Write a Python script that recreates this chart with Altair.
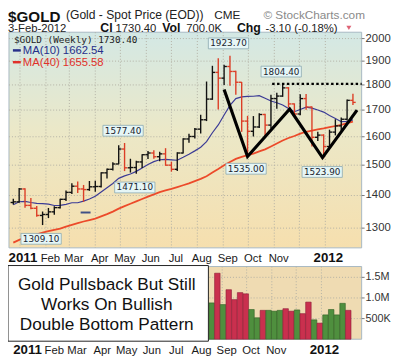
import altair as alt
import pandas as pd

# ---------------- data ----------------
weeks = pd.date_range("2010-12-24", periods=59, freq="7D").strftime("%Y-%m-%dT00:00:00").tolist()

opens = [1378,1380,1421,1369,1360,1338,1341,1349,1362,1388,
         1410,1430,1421,1419,1428,1429,1474,1486,1504,1556,
         1491,1492,1511,1536,1542,1529,1539,1500,1486,1542,
         1592,1601,1628,1663,1743,1852,1828,1877,1856,1811,
         1658,1620,1636,1683,1643,1745,1755,1788,1724,1685,
         1745,1712,1598,1606,1565,1617,1640,1665,1738]
highs = [1390,1424,1423,1392,1367,1350,1361,1366,1390,1416,
         1440,1445,1434,1447,1448,1476,1489,1510,1569,1577.4,
         1522,1515,1538,1549,1552,1546,1559,1512,1545,1595,
         1611,1632,1682,1814,1880,1913,1885,1923.7,1859,1812,
         1678,1677,1688,1686,1760,1768,1804.4,1791,1726,1762,
         1763,1714,1618,1609,1626,1665,1672,1741,1764]
lows = [1372,1377,1362,1357,1334,1309.1,1330,1340,1359,1383,
        1405,1408,1380,1415,1412,1426,1455,1482,1503,1480,
        1475,1471.1,1490,1521,1522,1513,1498,1478,1480,1540,
        1578,1594,1612,1658,1740,1702,1800,1797,1760,1618,
        1535,1601,1632,1604,1630,1705,1752,1710,1676,1680,
        1701,1565,1585,1523.9,1564,1605,1623,1660,1720]
closes = [1380,1421,1369,1360,1338,1341,1349,1362,1388,1410,
          1430,1421,1419,1428,1429,1474,1486,1504,1556,1491,
          1492,1511,1536,1542,1529,1539,1500,1486,1542,1592,
          1601,1628,1663,1743,1852,1828,1877,1856,1811,1658,
          1620,1636,1683,1643,1745,1755,1788,1724,1685,1745,
          1712,1598,1606,1565,1617,1640,1665,1738,1730]
prior_close = 1378
ma10 = [1370.7,1380.3,1381.5,1378.1,1375.5,1374.4,1373.1,1368.7,1369.0,1372.2,
        1377.2,1377.2,1382.2,1389.0,1397.7,1411.0,1424.7,1438.9,1455.7,1463.8,
        1470.0,1479.0,1490.7,1502.1,1512.1,1518.6,1520.0,1518.2,1516.8,1526.9,
        1537.8,1549.5,1562.2,1582.3,1614.6,1643.5,1681.2,1718.2,1745.1,1751.7,
        1753.6,1754.4,1756.4,1746.4,1735.7,1728.4,1719.5,1706.3,1693.7,1702.4,
        1711.6,1707.8,1700.1,1692.3,1679.5,1668.0,1655.7,1657.1,1662.5]
ma40 = [1258.0,1265.9,1271.9,1276.9,1282.0,1286.6,1290.9,1294.7,1298.7,1304.5,
        1309.9,1315.0,1319.7,1324.0,1328.4,1335.0,1341.9,1349.8,1358.9,1366.7,
        1373.9,1381.3,1389.0,1396.6,1403.7,1411.0,1416.6,1421.3,1427.0,1433.1,
        1439.0,1446.5,1454.1,1462.9,1475.0,1486.9,1499.7,1511.0,1521.6,1528.6,
        1534.6,1540.0,1547.9,1554.9,1565.0,1575.4,1586.3,1595.4,1602.8,1611.2,
        1618.2,1622.7,1627.3,1630.8,1635.5,1639.6,1644.1,1650.0,1655.6]

vol_first_week = 34
volumes_k = [880,1600,840,1200,960,1130,1100,720,520,700,
             700,680,700,740,680,710,620,900,470,390,
             590,720,590,870,700]

hi_idx = [19, 37, 46]
hi_text = ["1577.40", "1923.70", "1804.40"]
lo_idx = [5, 21, 40, 53]
lo_text = ["1309.10", "1471.10", "1535.00", "1523.90"]

pattern_dates = ["2011-09-02T00:00:00", "2011-09-30T00:00:00", "2011-11-19T10:00:00",
                 "2011-12-28T14:00:00", "2012-02-07T22:00:00"]
pattern_prices = [1781, 1530, 1704, 1526, 1700]
resist_start, resist_end, resist_price = "2011-10-29T10:00:00", "2012-02-13T10:00:00", 1804.4
dash_dates, dash_price = ["2011-03-14T12:00:00", "2011-03-26T08:00:00"], 1347

price_ticks = [1300, 1400, 1500, 1600, 1700, 1800, 1900, 2000]
vol_ticks = [500, 1000, 1500]
vol_tick_labels = ["500K", "1.0M", "1.5M"]
month_starts = [f"2011-{m:02d}-01T00:00:00" for m in range(1, 13)] + ["2012-01-01T00:00:00"]
month_names = ["Feb", "Mar", "Apr", "May", "Jun", "Jul", "Aug", "Sep", "Oct", "Nov"]
month_name_dates = [f"2011-{m:02d}-01T00:00:00" for m in range(2, 12)]
year_names = ["2011", "2012"]
year_dates = ["2011-01-01T00:00:00", "2012-01-01T00:00:00"]

# ---------------- tables ----------------
prev = [prior_close] + closes[:-1]
price = pd.DataFrame(dict(date=weeks, open=opens, high=highs, low=lows, close=closes,
                          ma10=ma10, ma40=ma40,
                          dir=["up" if c >= p else "down" for c, p in zip(closes, prev)]))
vol = pd.DataFrame(dict(date=weeks[vol_first_week:], vol=volumes_k,
                        dir=price["dir"].tolist()[vol_first_week:]))
hi = pd.DataFrame(dict(date=[weeks[i] for i in hi_idx], v=[highs[i] for i in hi_idx], t=hi_text))
lo = pd.DataFrame(dict(date=[weeks[i] for i in lo_idx], v=[lows[i] for i in lo_idx], t=lo_text))
pattern = pd.DataFrame(dict(d=pattern_dates, p=pattern_prices, i=list(range(len(pattern_dates)))))
resist = pd.DataFrame(dict(d1=[resist_start], d2=[resist_end], p=[resist_price]))
dash = pd.DataFrame(dict(d=dash_dates, p=[dash_price, dash_price]))
months = pd.DataFrame(dict(m=month_starts))
mlab = pd.DataFrame(dict(m=month_name_dates, t=month_names))
ylab = pd.DataFrame(dict(m=year_dates, t=year_names))
pt = pd.DataFrame(dict(v=price_ticks))
vt = pd.DataFrame(dict(v=vol_ticks, t=vol_tick_labels))
one = pd.DataFrame(dict(k=[0]))

# ---------------- geometry ----------------
W = 359
PH = 219.5
VT, VB = 238.5, 312.5
OX, OY = 9, 29.5

XS = alt.Scale(domain=[alt.DateTime(year=2010, month=12, date=18, hours=20),
                       alt.DateTime(year=2012, month=2, date=13, hours=10)], nice=False)
YP = alt.Scale(type="log", domain=[1243, 2029], range=[PH, 0], nice=False, zero=False)
YV = alt.Scale(domain=[0, 1762], range=[VB, VT], nice=False, zero=False)

GRID = dict(stroke="#b3b0a4", strokeDash=[1, 2], strokeWidth=1)
BORDER = "#a7b8c2"
UP, DOWN = "#111111", "#dc3d26"
FONT = "Liberation Sans"


def xlabels(base_y):
    m = alt.Chart(mlab).mark_text(align="center", baseline="alphabetic", font=FONT, fontSize=11.5,
                                  color="#1a1a1a", dx=4.5).encode(
        x=alt.X("m:T", scale=XS, axis=None), y=alt.value(base_y - OY), text="t:N")
    y = alt.Chart(ylab).mark_text(align="center", baseline="alphabetic", font=FONT, fontSize=13.5,
                                  fontWeight="bold", color="#111", dx=3).encode(
        x=alt.X("m:T", scale=XS, axis=None), y=alt.value(base_y - OY), text="t:N")
    return [m, y]


# ---------------- price panel ----------------
grad = alt.Gradient(gradient="linear", x1=0, x2=0, y1=0, y2=1,
                    stops=[alt.GradientStop(color="#d3e8e5", offset=0),
                           alt.GradientStop(color="#ebe8c8", offset=0.45),
                           alt.GradientStop(color="#f6dfae", offset=1)])
bgp = alt.Chart(one).mark_rect(fill=grad, stroke=BORDER, strokeWidth=1).encode(
    x=alt.value(0), x2=alt.value(W), y=alt.value(0), y2=alt.value(PH))
gvp = alt.Chart(months).mark_rule(**GRID).encode(
    x=alt.X("m:T", scale=XS, axis=None), y=alt.value(0), y2=alt.value(PH))
ghp = alt.Chart(pt).mark_rule(**GRID).encode(
    y=alt.Y("v:Q", scale=YP, axis=None), x=alt.value(0), x2=alt.value(W))
ptick = alt.Chart(pt).mark_rule(color="#777", strokeWidth=1).encode(
    y=alt.Y("v:Q", scale=YP, axis=None), x=alt.value(W), x2=alt.value(W + 3))
plab = alt.Chart(pt).mark_text(align="left", baseline="middle", font=FONT, fontSize=11.5,
                               color="#333").encode(
    y=alt.Y("v:Q", scale=YP, axis=None), x=alt.value(W + 4), text=alt.Text("v:Q", format="d"))

dircol = alt.condition(alt.datum.dir == "up", alt.value(UP), alt.value(DOWN))
hl = alt.Chart(price).mark_rule(strokeWidth=1.4).encode(
    x=alt.X("date:T", scale=XS, axis=None),
    y=alt.Y("low:Q", scale=YP, axis=None), y2="high:Q", color=dircol)
op = alt.Chart(price).mark_rule(strokeWidth=1.4, xOffset=-2.8, x2Offset=0).encode(
    x=alt.X("date:T", scale=XS, axis=None), x2="date:T",
    y=alt.Y("open:Q", scale=YP, axis=None), color=dircol)
cl = alt.Chart(price).mark_rule(strokeWidth=1.4, xOffset=0, x2Offset=2.8).encode(
    x=alt.X("date:T", scale=XS, axis=None), x2="date:T",
    y=alt.Y("close:Q", scale=YP, axis=None), color=dircol)
m10 = alt.Chart(price).mark_line(color="#3b3b96", strokeWidth=1.2).encode(
    x=alt.X("date:T", scale=XS, axis=None), y=alt.Y("ma10:Q", scale=YP, axis=None))
m40 = alt.Chart(price).mark_line(color="#ec4a2a", strokeWidth=1.8).encode(
    x=alt.X("date:T", scale=XS, axis=None), y=alt.Y("ma40:Q", scale=YP, axis=None))
dsh = alt.Chart(dash).mark_line(color="#3f4f86", strokeWidth=2).encode(
    x=alt.X("d:T", scale=XS, axis=None), y=alt.Y("p:Q", scale=YP, axis=None))
wl = alt.Chart(pattern).mark_line(color="#000", strokeWidth=3.2, strokeJoin="miter").encode(
    x=alt.X("d:T", scale=XS, axis=None), y=alt.Y("p:Q", scale=YP, axis=None), order="i:Q")
rs = alt.Chart(resist).mark_rule(color="#000", strokeWidth=2.5, strokeDash=[2.5, 2.5]).encode(
    x=alt.X("d1:T", scale=XS, axis=None), x2="d2:T", y=alt.Y("p:Q", scale=YP, axis=None))

LBL_BOX = dict(fill="#e6f6f6", stroke="#8aa8b0", strokeWidth=0.8)
LBL_TXT = dict(font="DejaVu Sans", fontSize=9, color="#1a2530", baseline="middle")
hr = alt.Chart(hi).mark_rect(xOffset=-22, x2Offset=19, yOffset=-18, y2Offset=-7, **LBL_BOX).encode(
    x=alt.X("date:T", scale=XS, axis=None), x2="date:T",
    y=alt.Y("v:Q", scale=YP, axis=None), y2="v:Q")
ht = alt.Chart(hi).mark_text(dx=-1.5, dy=-12.5, **LBL_TXT).encode(
    x=alt.X("date:T", scale=XS, axis=None), y=alt.Y("v:Q", scale=YP, axis=None), text="t:N")
lr = alt.Chart(lo).mark_rect(xOffset=-22, x2Offset=19, yOffset=8.5, y2Offset=19.5, **LBL_BOX).encode(
    x=alt.X("date:T", scale=XS, axis=None), x2="date:T",
    y=alt.Y("v:Q", scale=YP, axis=None), y2="v:Q")
lt = alt.Chart(lo).mark_text(dx=-1.5, dy=14, **LBL_TXT).encode(
    x=alt.X("date:T", scale=XS, axis=None), y=alt.Y("v:Q", scale=YP, axis=None), text="t:N")

price_layer = alt.layer(bgp, gvp, ghp, ptick, plab, m40, m10, hl, op, cl, dsh, wl, rs,
                        hr, ht, lr, lt, *xlabels(263))

# ---------------- volume panel ----------------
bgv = alt.Chart(one).mark_rect(fill="#efdbb2", stroke=BORDER, strokeWidth=1).encode(
    x=alt.value(0), x2=alt.value(W), y=alt.value(VT), y2=alt.value(VB))
gvv = alt.Chart(months).mark_rule(**GRID).encode(
    x=alt.X("m:T", scale=XS, axis=None), y=alt.value(VT), y2=alt.value(VB))
ghv = alt.Chart(vt).mark_rule(**GRID).encode(
    y=alt.Y("v:Q", scale=YV, axis=None), x=alt.value(0), x2=alt.value(W))
vtick = alt.Chart(vt).mark_rule(color="#777", strokeWidth=1).encode(
    y=alt.Y("v:Q", scale=YV, axis=None), x=alt.value(W), x2=alt.value(W + 3))
vlab = alt.Chart(vt).mark_text(align="left", baseline="middle", font=FONT, fontSize=11,
                               color="#333").encode(
    y=alt.Y("v:Q", scale=YV, axis=None), x=alt.value(W + 4), text="t:N")
bars = alt.Chart(vol).mark_bar(width=5.6, strokeWidth=0.6).encode(
    x=alt.X("date:T", scale=XS, axis=None),
    y=alt.Y("vol:Q", scale=YV, axis=None),
    fill=alt.condition(alt.datum.dir == "up", alt.value("#4f8f3e"), alt.value("#c9304e")),
    stroke=alt.condition(alt.datum.dir == "up", alt.value("#2e5e24"), alt.value("#8c1c36")))
vol_layer = alt.layer(bgv, gvv, ghv, vtick, vlab, bars, *xlabels(357.5))


# ---------------- annotations / header ----------------
def txt(s, x, y, size=12, color="#222", weight="normal", font=FONT, align="left"):
    return alt.Chart(one).mark_text(text=s, align=align, baseline="alphabetic", font=font,
                                    fontSize=size, fontWeight=weight, color=color).encode(
        x=alt.value(x - OX), y=alt.value(y - OY))


def seg(x1, x2, y, color):
    return alt.Chart(one).mark_rule(color=color, strokeWidth=2.5).encode(
        x=alt.value(x1 - OX), x2=alt.value(x2 - OX), y=alt.value(y - OY))


box = alt.Chart(one).mark_rect(fill="white", stroke="#222", strokeWidth=1).encode(
    x=alt.value(8 - OX), x2=alt.value(212 - OX), y=alt.value(267 - OY), y2=alt.value(344 - OY))
box_text = alt.Chart(one).mark_text(
    text=["Gold Pullsback But Still", "Works On Bullish", "Double Bottom Pattern"],
    lineHeight=20.5, align="center", baseline="alphabetic", font=FONT,
    fontSize=17.5, color="#111").encode(x=alt.value(108.5 - OX), y=alt.value(292 - OY))

tri = alt.Chart(one).mark_point(shape="triangle-down", filled=True, size=26, color="#d0203a").encode(
    x=alt.value(355 - OX), y=alt.value(25 - OY))

L1, L2 = 16.5, 29.5
annot = alt.layer(
    box, box_text,
    txt("$GOLD", 8, 19.5, 15.5, "#111", "bold"),
    txt("(Gold - Spot Price (EOD))", 67, L1, 12.3),
    txt("CME", 218, L1, 12),
    txt("\u00a9 StockCharts.com", 268, L1, 12, "#8a8a8a"),
    txt("3-Feb-2012", 8, L2, 11.5),
    txt("Cl", 102, L2, 12.5, "#111", "bold"),
    txt("1730.40", 117.5, L2, 11.5),
    txt("Vol", 165, L2, 12.5, "#111", "bold"),
    txt("700.0K", 189.5, L2, 11.5),
    txt("Chg", 241, L2, 12.5, "#111", "bold"),
    txt("-3.10 (-0.18%)", 270, L2, 11.5),
    tri,
    txt("$GOLD (Weekly) 1730.40", 14, 40.5, 9.5, "#222", "normal", "DejaVu Sans Mono"),
    seg(13, 21, 48, "#262f8a"),
    txt("MA(10) 1662.54", 23, 52, 11.5, "#262f8a"),
    seg(13, 21, 60, "#e0302a"),
    txt("MA(40) 1655.58", 23, 64, 11.5, "#e0302a"),
)

chart = alt.layer(price_layer, vol_layer, annot).resolve_scale(
    x="independent", y="independent"
).properties(
    width=W, height=VB,
    padding={"left": 1, "top": 21.5, "right": 37, "bottom": 19},
    autosize=alt.AutoSizeParams(type="none"),
).configure_view(stroke="transparent")

chart.save("out.html", embed_options={"renderer": "svg", "actions": False})
